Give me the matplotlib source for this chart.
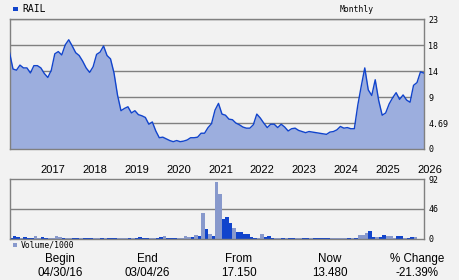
"""
RAIL monthly price and volume chart
"""

import matplotlib
matplotlib.use("Agg")
import matplotlib.pyplot as plt
from matplotlib.patches import Rectangle
from matplotlib.transforms import blended_transform_factory

# monthly closes, Apr 2016 .. Mar 2026
price = [
    17.15, 14.2, 14.0, 14.9, 14.4, 14.4, 13.5, 14.8, 14.8, 14.4, 13.4, 12.7,
    14.0, 16.9, 17.3, 16.7, 18.5, 19.4, 18.3, 17.1, 16.6, 15.6, 14.4, 13.6,
    14.6, 16.8, 17.2, 18.3, 16.6, 16.0, 13.5, 9.6, 6.8, 7.2, 7.5, 6.4,
    6.8, 6.1, 5.9, 5.6, 4.4, 4.8, 3.2, 2.0, 2.1, 1.8, 1.5, 1.3,
    1.5, 1.3, 1.4, 1.6, 2.0, 2.0, 2.1, 2.8, 2.8, 3.8, 4.5, 6.9,
    8.1, 6.2, 6.0, 5.3, 5.2, 4.6, 4.3, 3.9, 3.7, 3.7, 4.3, 6.2,
    5.5, 4.6, 3.8, 4.4, 4.4, 3.8, 4.4, 3.9, 3.2, 3.6, 3.7, 3.3,
    3.1, 2.9, 3.1, 3.0, 2.9, 2.8, 2.7, 2.6, 3.0, 3.1, 3.4, 4.0,
    3.7, 3.8, 3.6, 3.6, 7.8, 11.2, 14.4, 10.5, 9.5, 12.3, 8.6, 6.0,
    6.4, 8.0, 9.1, 10.0, 8.8, 9.6, 8.7, 8.3, 11.3, 11.8, 13.7, 13.48,
]

# monthly volume / 1000
volume = [
    1.5, 4.6, 2.6, 1.0, 3.0, 1.0, 1.0, 4.6, 1.5, 3.0, 1.5, 1.0,
    0.8, 4.6, 3.0, 1.0, 0.5, 0.5, 1.0, 1.0, 0.5, 0.5, 1.0, 1.0,
    1.0, 1.0, 0.5, 1.5, 0.5, 0.5, 0.5, 1.0, 1.0, 1.0, 1.0, 1.0,
    1.0, 3.0, 1.5, 1.0, 0.5, 0.5, 1.0, 3.0, 4.6, 1.0, 0.5, 1.0,
    1.0, 1.0, 4.6, 2.6, 2.6, 6.2, 4.6, 39.5, 15.4, 7.7, 4.6, 88.0,
    69.0, 30.0, 33.0, 24.0, 16.6, 10.0, 10.0, 6.8, 6.8, 2.6, 1.0, 1.0,
    6.8, 2.0, 3.6, 1.5, 0.5, 0.5, 0.5, 0.5, 0.5, 0.5, 0.5, 0.5,
    0.5, 0.5, 0.5, 0.5, 0.5, 0.5, 0.5, 0.5, 0.5, 0.5, 0.5, 0.5,
    0.5, 0.5, 0.5, 0.5, 5.2, 5.2, 7.8, 12.0, 2.6, 2.0, 2.6, 5.2,
    3.6, 3.6, 0.5, 3.6, 3.6, 1.0, 1.0, 2.0, 2.0, 0.0, 0.0, 0.0,
]

# 1 = dark bar, 0 = light bar
vol_dark = [
    1, 1, 1, 0, 1, 1, 1, 0, 0, 1, 1, 0,
    0, 0, 0, 1, 0, 0, 1, 1, 0, 1, 1, 1,
    0, 0, 1, 0, 1, 1, 1, 0, 0, 0, 1, 0,
    1, 1, 1, 1, 0, 0, 1, 1, 0, 1, 1, 1,
    0, 0, 0, 0, 1, 0, 1, 0, 1, 0, 1, 0,
    0, 1, 1, 1, 0, 1, 1, 1, 1, 1, 1, 0,
    0, 1, 1, 1, 0, 0, 1, 0, 1, 1, 0, 0,
    1, 1, 0, 1, 1, 1, 1, 1, 0, 0, 0, 0,
    0, 1, 0, 1, 0, 0, 0, 1, 1, 0, 1, 1,
    0, 0, 0, 1, 1, 0, 1, 1, 0, 0, 0, 0,
]

years = ["2017", "2018", "2019", "2020", "2021", "2022", "2023", "2024", "2025", "2026"]
year_idx = [9, 21, 33, 45, 57, 69, 81, 93, 105, 117]

price_ticks = ["0", "4.69", "9", "14", "18", "23"]
vol_ticks = ["0", "46", "92"]

footer_heads = ["Begin", "End", "From", "Now", "% Change"]
footer_vals = ["04/30/16", "03/04/26", "17.150", "13.480", "-21.39%"]

BG = "#f2f2f2"
GRID = "#808080"
DARK = "#1144cc"
LIGHT = "#8899cc"
FILL = "#9caede"
MONO = "DejaVu Sans Mono"
SANS = "Liberation Sans"

fig = plt.figure(figsize=(4.6, 2.8), dpi=100, facecolor=BG)

ax = fig.add_axes([0.0207, 0.4679, 0.901, 0.4625], facecolor=BG)
axv = fig.add_axes([0.0207, 0.1482, 0.901, 0.2114], facecolor=BG)

x = list(range(len(price)))

# price panel
ytop = 23.0
ypos = [ytop * k / 5 for k in range(6)]
for yy in ypos:
    ax.axhline(yy, color=GRID, lw=1.0, zorder=1)
ax.fill_between(x, price, 0, color=FILL, lw=0, zorder=2)
ax.plot(x, price, color=DARK, lw=1.0, zorder=3)
ax.set_xlim(0, len(price) - 1)
ax.set_ylim(0, ytop)
ax.set_xticks([])
ax.yaxis.tick_right()
ax.set_yticks(ypos)
ax.set_yticklabels(price_ticks, fontfamily=MONO, fontsize=6)
ax.tick_params(axis="y", length=0, pad=3)
for s in ax.spines.values():
    s.set_color(GRID)
    s.set_linewidth(1.0)

# volume panel
vmax = 92
axv.axhline(46, color=GRID, lw=1.0, zorder=1)
colors = [DARK if d else LIGHT for d in vol_dark]
axv.bar(x, volume, width=1.0, align="edge", color=colors, lw=0, zorder=2)
axv.set_xlim(0, len(price) - 1)
axv.set_ylim(0, vmax)
axv.set_xticks([])
axv.yaxis.tick_right()
axv.set_yticks([0, 46, 92])
axv.set_yticklabels(vol_ticks, fontfamily=MONO, fontsize=6)
axv.tick_params(axis="y", length=0, pad=3)
for s in axv.spines.values():
    s.set_color(GRID)
    s.set_linewidth(1.0)

# year labels between the panels
tr = blended_transform_factory(ax.transData, fig.transFigure)
for lab, i in zip(years, year_idx):
    ax.text(i, 0.393, lab, transform=tr, ha="left", va="center",
            fontfamily=SANS, fontsize=8, color="black", clip_on=False)

# header
fig.patches.append(Rectangle((13.3 / 460, 1 - 11.3 / 280), 4.4 / 460, 4.6 / 280,
                             transform=fig.transFigure, color=DARK, lw=0))
fig.text(22.5 / 460, 1 - 9 / 280, "RAIL", fontfamily=MONO, fontsize=7,
         ha="left", va="center")
fig.text(357 / 460, 1 - 9 / 280, "Monthly", fontfamily=MONO, fontsize=5.8,
         ha="center", va="center")

# volume legend
fig.patches.append(Rectangle((13 / 460, 1 - 247 / 280), 4.2 / 460, 4.2 / 280,
                             transform=fig.transFigure, color=LIGHT, lw=0))
fig.text(21 / 460, 1 - 245 / 280, "Volume/1000", fontfamily=MONO, fontsize=5.8,
         ha="left", va="center")

# footer
foot_x = [60, 147, 239, 330, 417]
for fx, h, v in zip(foot_x, footer_heads, footer_vals):
    fig.text(fx / 460, 1 - 259 / 280, h, fontfamily=SANS, fontsize=8.4,
             ha="center", va="center")
    fig.text(fx / 460, 1 - 273 / 280, v, fontfamily=SANS, fontsize=8.4,
             ha="center", va="center")

fig.savefig("out.png", dpi=100, facecolor=BG)
